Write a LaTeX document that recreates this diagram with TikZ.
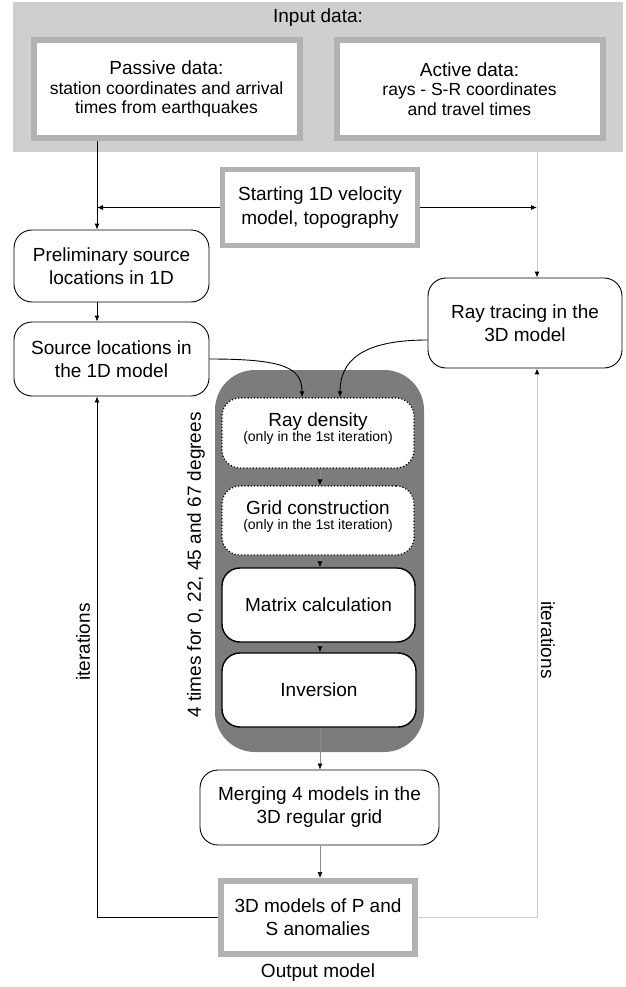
\documentclass[tikz,border=0pt]{standalone}
\usepackage{fontspec}
\setmainfont{Liberation Sans}
\usetikzlibrary{arrows.meta}
\definecolor{bgin}{HTML}{CFCFCF}
\definecolor{bord}{HTML}{B2B2B2}
\definecolor{dark}{HTML}{7C7C7C}
\definecolor{lgray}{HTML}{CDCDCD}
\definecolor{mgray}{HTML}{8A8A8A}
\begin{document}
\begin{tikzpicture}[x=1pt,y=-1pt,
  every node/.style={font=\fontsize{19}{23}\selectfont, align=center, inner sep=0pt},
  gbox/.style={draw=bord, line width=6pt, fill=white},
  rbox/.style={draw=black, line width=0.9pt, rounded corners=18pt, fill=white},
  ibox/.style={draw=black, line width=1.4pt, rounded corners=18pt, fill=white},
  dbox/.style={draw=black, line width=1.2pt, dotted, rounded corners=18pt, fill=white},
  arr/.style={-{Latex[length=6pt,width=5pt,color=black]}},
  blk/.style={draw=black, line width=0.9pt},
  lg/.style={draw=lgray, line width=1pt},
  mg/.style={draw=mgray, line width=0.7pt}
]
\useasboundingbox (0,0) rectangle (625,987);
\fill[white] (0,0) rectangle (625,987);

% input area
\node[fill=bgin, minimum width=610pt, minimum height=150pt] (inbg) at (318,77) {};
\node (intitle) at (318,18) {Input data:};
\node[gbox, minimum width=266pt, minimum height=98pt] (passive) at (166.5,89.5) {};
\node[font=\fontsize{17.5}{19.5}\selectfont] (ptext) at (166.5,89)
  {{\fontsize{19}{19}\selectfont Passive data:}\\station coordinates and arrival\\times from earthquakes};
\node[gbox, minimum width=266pt, minimum height=98pt] (active) at (469.5,89.5) {};
\node[font=\fontsize{17.5}{19.5}\selectfont] (atext) at (469.5,89)
  {{\fontsize{19}{19}\selectfont Active data:}\\rays - S-R coordinates\\and travel times};

% helper columns
\coordinate (L) at (97,0);
\coordinate (R) at (537,0);
\coordinate (C1) at (302,0);
\coordinate (C2) at (340,0);
\coordinate (M) at (320,0);

% starting model
\node[draw=bord, line width=5pt, fill=white, minimum width=195pt, minimum height=76pt] (start) at (320,207.5)
  {Starting 1D velocity\\[1pt]model, topography};

% left column
\node[rbox, minimum width=195pt, minimum height=72pt] (prelim) at (111.5,266)
  {Preliminary source\\locations in 1D};
\node[rbox, minimum width=195pt, minimum height=74pt] (source) at (111.5,359)
  {Source locations in\\the 1D model};

% right column
\node[rbox, minimum width=194pt, minimum height=90pt] (raytr) at (525,323)
  {Ray tracing in the\\3D model};

% big gray block
\node[fill=dark, rounded corners=40pt, minimum width=209pt, minimum height=382pt] (big) at (319.5,561) {};
\node[dbox, minimum width=192pt, minimum height=70pt] (raydens) at (318,433) {};
\node[font=\fontsize{14}{15}\selectfont] (rdtext) at (318,429)
  {{\fontsize{19}{19}\selectfont Ray density}\\(only in the 1st iteration)};
\node[dbox, minimum width=192pt, minimum height=69pt] (grid) at (318,520.5) {};
\node[font=\fontsize{14}{15}\selectfont] (gctext) at (318,517)
  {{\fontsize{19}{19}\selectfont Grid construction}\\(only in the 1st iteration)};
\node[ibox, minimum width=193pt, minimum height=74pt] (matrix) at (318.5,605)
  {Matrix calculation};
\node[ibox, minimum width=194pt, minimum height=74pt] (inversion) at (319,690)
  {Inversion};
\node[rotate=90] (times) at (196,565) {4 times for 0, 22, 45 and 67 degrees};

% merging and output
\node[rbox, minimum width=239pt, minimum height=75pt] (merging) at (319.5,807.5)
  {Merging 4 models in the\\3D regular grid};
\node[gbox, minimum width=194pt, minimum height=73pt] (output) at (318,917.5)
  {3D models of P and\\S anomalies};
\node (outlabel) at (318,973) {Output model};

% connectors
\draw[blk, arr] (passive.south -| L) -- (prelim.north -| L);
\draw[lg, arr] (active.south -| R) -- (raytr.north -| R);
\draw[blk, arr] (start.west) -- (start.west -| L);
\draw[blk, arr] (start.east) -- (start.east -| R);
\draw[blk, arr] (prelim.south -| L) -- (source.north -| L);
\draw[blk, arr] (source.east) .. controls (285,359) and (302,368) .. (raydens.north -| C1);
\draw[blk, arr] ([yshift=-17pt]raytr.west) .. controls (360,340) and (340,362) .. (raydens.north -| C2);
\draw[mg, arr] (raydens.south -| M) -- (grid.north -| M);
\draw[mg, arr] (grid.south -| M) -- (matrix.north -| M);
\draw[mg, arr] (matrix.south -| M) -- (inversion.north -| M);
\draw[mg, arr] (inversion.south -| M) -- (merging.north -| M);
\draw[mg, arr] (merging.south -| M) -- (output.north -| M);
\draw[blk, arr] (output.west) -- (output.west -| L) -- (source.south -| L);
\draw[lg, arr] (output.east) -- (output.east -| R) -- (raytr.south -| R);
\node[rotate=90] (iterl) at (83,642) {iterations};
\node[rotate=-90] (iterr) at (548,640) {iterations};
\end{tikzpicture}
\end{document}
